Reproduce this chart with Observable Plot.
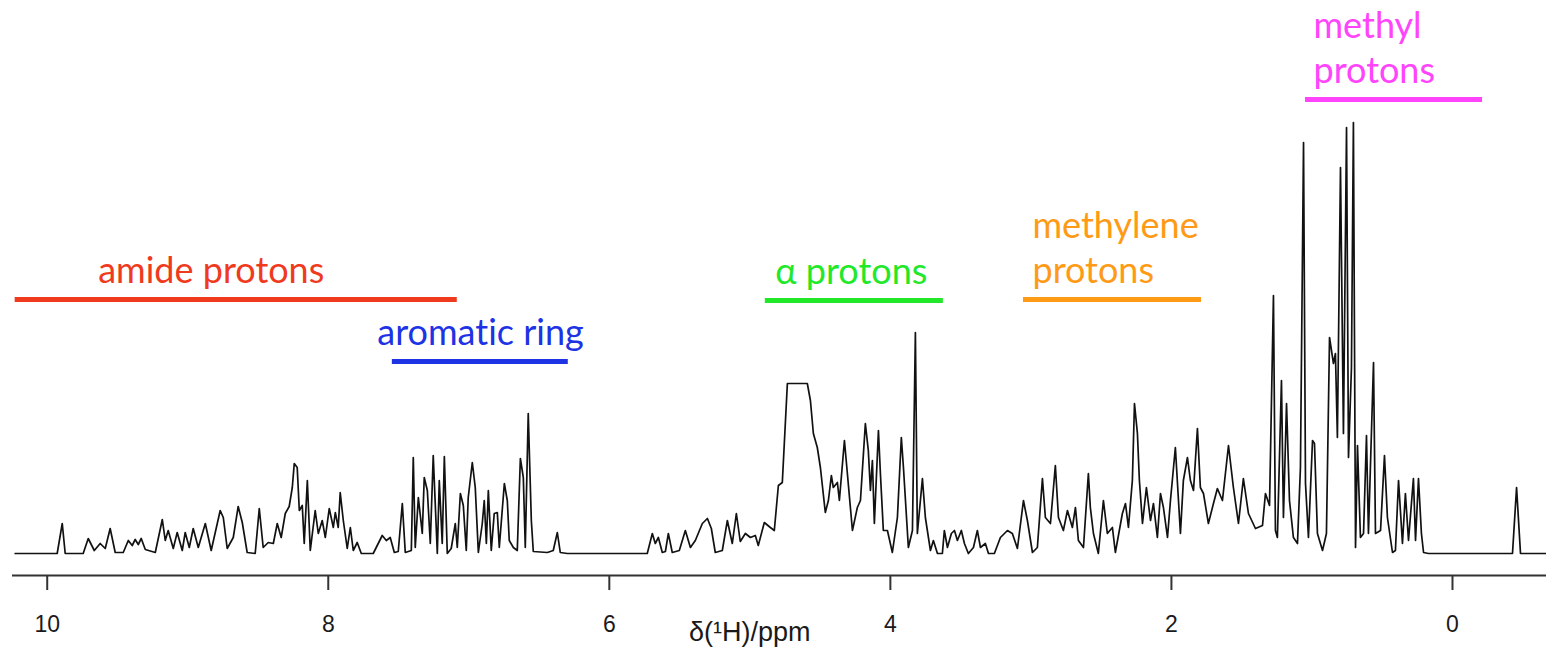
<!DOCTYPE html>
<html><head><meta charset="utf-8">
<script src="https://cdn.jsdelivr.net/npm/d3@7"></script>
<script src="https://cdn.jsdelivr.net/npm/@observablehq/plot@0.6"></script>
<style>html,body{margin:0;padding:0;background:#fff;} #chart svg{display:block;} #chart svg text{font-variant-ligatures:none;font-feature-settings:"liga" 0;}</style>
</head><body><div id="chart"></div>
<script>
// 1H NMR spectrum trace: [chemical shift (ppm), intensity (a.u.)]
const spectrum = [
[10.228,0],[9.929,0],[9.893,30],[9.872,0],[9.744,0],[9.708,15],[9.665,3],[9.623,10],[9.587,5],[9.552,25],[9.516,1],[9.459,1],[9.423,13],[9.395,8],[9.374,14],[9.352,9],[9.331,15],[9.302,4],[9.231,1],[9.181,34],[9.160,13],[9.139,23],[9.103,5],[9.075,21],[9.039,3],[9.018,21],[8.989,6],[8.961,25],[8.925,6],[8.875,30],[8.833,3],[8.769,43],[8.747,36],[8.719,5],[8.676,16],[8.641,47],[8.612,31],[8.577,1],[8.520,0],[8.491,45],[8.463,6],[8.427,11],[8.391,10],[8.363,30],[8.335,16],[8.306,40],[8.278,47],[8.256,66],[8.242,90],[8.221,86],[8.206,43],[8.185,48],[8.171,10],[8.149,73],[8.128,3],[8.093,43],[8.071,20],[8.043,33],[8.021,16],[7.993,45],[7.964,26],[7.950,41],[7.929,26],[7.915,61],[7.893,33],[7.865,5],[7.843,26],[7.822,3],[7.794,11],[7.765,0],[7.680,0],[7.616,18],[7.587,13],[7.559,16],[7.530,1],[7.502,2],[7.473,50],[7.452,1],[7.409,3],[7.395,96],[7.381,6],[7.359,56],[7.331,20],[7.317,76],[7.295,63],[7.274,10],[7.253,98],[7.224,0],[7.210,73],[7.189,10],[7.174,97],[7.153,0],[7.125,5],[7.096,30],[7.082,6],[7.060,60],[7.039,48],[7.018,3],[7.004,56],[6.975,91],[6.954,66],[6.932,1],[6.904,30],[6.890,53],[6.875,10],[6.861,63],[6.840,3],[6.819,40],[6.797,41],[6.783,6],[6.747,70],[6.726,53],[6.712,13],[6.683,6],[6.655,3],[6.633,95],[6.612,76],[6.598,6],[6.577,140],[6.555,33],[6.541,2],[6.441,1],[6.399,3],[6.370,21],[6.349,1],[6.299,0],
[5.730,0],[5.694,20],[5.673,10],[5.651,16],[5.623,1],[5.601,2],[5.580,20],[5.552,1],[5.502,3],[5.459,23],[5.423,6],[5.388,13],[5.338,30],[5.302,35],[5.274,25],[5.246,1],[5.196,3],[5.160,33],[5.125,10],[5.096,40],[5.068,12],[5.032,20],[4.996,16],[4.961,18],[4.940,8],[4.897,31],[4.854,26],[4.826,23],[4.797,68],[4.769,71],[4.733,170],[4.591,170],[4.569,153],[4.548,120],[4.520,106],[4.498,86],[4.463,41],[4.441,53],[4.420,78],[4.406,66],[4.377,71],[4.363,53],[4.327,113],[4.306,80],[4.270,23],[4.235,46],[4.213,53],[4.178,130],[4.157,103],[4.142,63],[4.128,93],[4.114,30],[4.085,123],[4.071,80],[4.050,23],[4.021,23],[3.986,1],[3.950,36],[3.922,116],[3.907,86],[3.872,6],[3.843,23],[3.822,221],[3.808,20],[3.772,75],[3.751,36],[3.715,3],[3.694,13],[3.665,0],[3.630,0],[3.616,23],[3.594,6],[3.566,20],[3.544,23],[3.523,13],[3.495,23],[3.473,10],[3.445,0],[3.409,6],[3.381,23],[3.359,6],[3.324,10],[3.302,0],[3.260,0],[3.217,16],[3.167,23],[3.132,20],[3.096,5],[3.053,53],[3.025,33],[2.989,1],[2.954,6],[2.918,75],[2.897,36],[2.861,30],[2.826,88],[2.804,36],[2.769,23],[2.740,43],[2.705,26],[2.683,46],[2.662,13],[2.626,6],[2.591,80],[2.577,46],[2.555,20],[2.520,0],[2.484,53],[2.456,20],[2.420,26],[2.399,1],[2.349,40],[2.327,50],[2.306,26],[2.278,73],[2.263,150],[2.242,120],[2.228,73],[2.206,30],[2.178,66],[2.149,33],[2.128,50],[2.100,16],[2.078,60],[2.057,46],[2.028,16],[2.007,53],[1.972,106],[1.936,20],[1.915,73],[1.886,96],[1.865,73],[1.843,63],[1.815,125],[1.794,66],[1.772,60],[1.737,30],[1.701,50],[1.673,65],[1.637,53],[1.594,108],[1.559,66],[1.523,30],[1.488,75],[1.452,40],[1.402,25],[1.352,28],[1.331,60],[1.302,48],
[1.274,258],[1.260,23],[1.246,16],[1.217,173],[1.203,36],[1.181,150],[1.160,53],[1.132,16],[1.103,10],[1.082,86],[1.060,411],[1.046,70],[1.025,16],[0.996,113],[0.982,110],[0.961,20],[0.925,3],[0.897,20],[0.875,216],[0.847,190],[0.833,200],[0.819,116],[0.797,386],[0.776,120],[0.754,426],[0.740,96],[0.719,186],[0.705,431],[0.690,6],[0.676,108],[0.655,16],[0.633,20],[0.612,118],[0.598,20],[0.562,191],[0.548,20],[0.512,23],[0.484,98],[0.463,36],[0.427,1],[0.406,3],[0.384,73],[0.356,10],[0.335,60],[0.313,13],[0.278,75],[0.263,13],[0.242,75],[0.221,20],[0.206,1],[0.171,0],[-0.427,0],[-0.456,66],[-0.484,0],[-0.669,0]
];

const tickValues = [10, 8, 6, 4, 2, 0];
const axisTitle = "δ(¹H)/ppm";
const axisTitlePpm = 5.0;

// annotated regions
const regionNames = ["amide protons", "aromatic ring", "α protons", "methylene\nprotons", "methyl\nprotons"];
const regionFrom = [10.228, 7.544, 4.890, 3.053, 1.046];
const regionTo = [7.082, 6.292, 3.623, 1.786, -0.214];
const regionLevel = [254, 192, 253, 254, 454];
const regionTextStart = [9.637, 7.651, 4.819, 2.989, 0.989];
const regionColors = ["#ef3a1e", "#1d33e4", "#22e82a", "#ff9a16", "#ff44fb"];

const regions = regionNames.map((name, i) => ({
  name, from: regionFrom[i], to: regionTo[i], level: regionLevel[i],
  textStart: regionTextStart[i], color: regionColors[i]
}));
const data = spectrum.map(([ppm, intensity]) => ({ppm, intensity}));

const chart = Plot.plot({
  width: 1546, height: 654,
  marginLeft: 12, marginRight: 0, marginTop: 0, marginBottom: 79,
  style: {fontFamily: "'Liberation Sans', Arial, sans-serif", background: "#fff", color: "#1a1a1a"},
  x: {domain: [10.247, -0.669]},
  y: {domain: [-22, 553], axis: null},
  color: {type: "identity"},
  marks: [
    Plot.ruleY([-22], {stroke: "#333", strokeWidth: 2}),
    Plot.axisX(tickValues, {tickSize: 15, tickPadding: 25, stroke: "#333", strokeWidth: 2, fontSize: 23, fill: "#1a1a1a", tickFormat: d => String(d), label: null}),
    Plot.line(data, {x: "ppm", y: "intensity", stroke: "#111", strokeWidth: 1.7}),
    Plot.ruleY(regions, {y: "level", x1: "from", x2: "to", stroke: "color", strokeWidth: 5}),
    Plot.text(regions, {x: "textStart", y: "level", text: "name", fill: "color", textAnchor: "start", lineAnchor: "bottom", dy: -17, fontSize: 36, fontFamily: "Lato", lineHeight: 1.25}),
    Plot.text([{t: axisTitle, ppm: axisTitlePpm}], {x: "ppm", text: "t", frameAnchor: "bottom", dy: 65, lineAnchor: "bottom", fontSize: 27})
  ]
});
document.getElementById("chart").appendChild(chart);
</script>
</body></html>
